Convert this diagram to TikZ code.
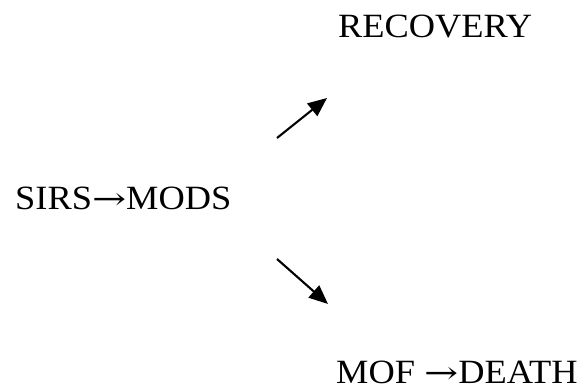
\documentclass[tikz,border=0pt]{standalone}
\usepackage{fontspec}
\usepackage{graphicx}
\setmainfont[FakeStretch=1.07]{Liberation Serif}
\newfontfamily\arrowfont{DejaVu Serif}
\usetikzlibrary{arrows.meta}
\newcommand{\flowarrow}{\scalebox{1.2}[0.9]{\arrowfont →}}
\tikzset{
  label text/.style={anchor=base west, inner sep=0pt, font=\fontsize{34}{40}\selectfont},
  flow/.style={line width=2.1pt, -{Triangle[length=19pt,width=16pt]}}
}
\begin{document}
\begin{tikzpicture}[x=1pt,y=1pt]
  \useasboundingbox (0,0) rectangle (583,389);
  \node[label text] (rec) at (338,351) {RECOVERY};
  \node[label text] (sirs) at (15,180) {SIRS\flowarrow MODS};
  \node[label text] (mof) at (336,6) {MOF \flowarrow DEATH};
  \coordinate (upS) at (277,251);
  \coordinate (upE) at (327,291);
  \coordinate (dnS) at (277,130);
  \coordinate (dnE) at (328,85);
  \draw[flow] (upS) -- (upE);
  \draw[flow] (dnS) -- (dnE);
\end{tikzpicture}
\end{document}
